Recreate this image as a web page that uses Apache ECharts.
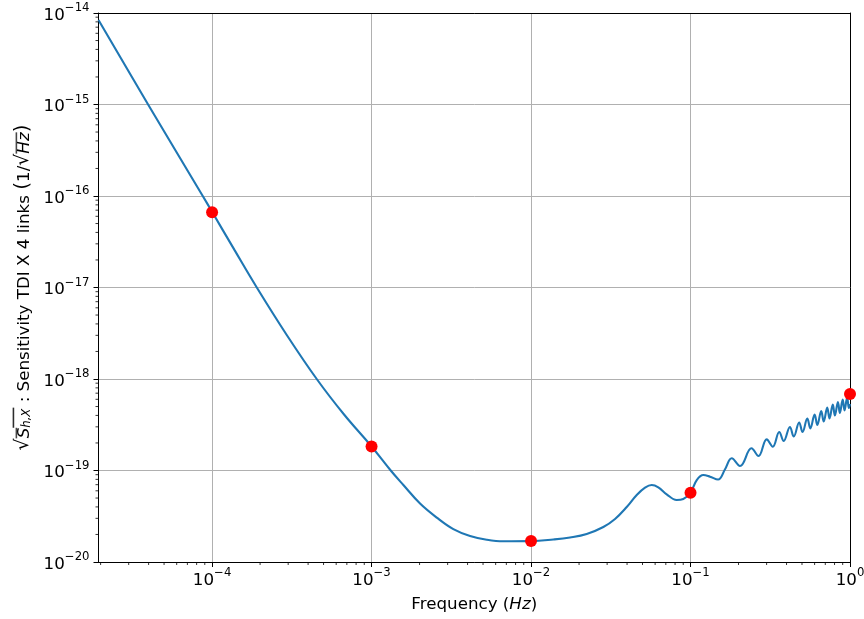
<!DOCTYPE html>
<html>
<head>
<meta charset="utf-8">
<script src="https://cdn.jsdelivr.net/npm/echarts@6/dist/echarts.min.js"></script>
<style>html,body{margin:0;padding:0;background:#fff}#c{width:864px;height:619px}</style>
</head>
<body>
<div id="c"></div>
<script>
// Frequency (Hz) and sensitivity (1/sqrt(Hz))
const freq = [1.94e-5, 3.97e-5, 8.74e-5, 1e-4, 1.381e-4, 1.907e-4, 2.939e-4, 4.53e-4, 6.722e-4, 1e-3,
  1.319e-3, 1.583e-3, 2.014e-3, 2.564e-3, 3.257e-3, 4.146e-3, 5.277e-3, 6.70e-3, 1e-2, 1.380e-2,
  1.756e-2, 2.234e-2, 2.840e-2, 3.363e-2, 3.981e-2, 4.600e-2, 5.185e-2, 5.71e-2, 6.28e-2, 7.09e-2,
  8.19e-2, 9.01e-2, 0.1, 0.1094, 0.1203, 0.1325, 0.1488, 0.1646, 0.1813, 0.2043,
  0.2412, 0.2668, 0.3004, 0.3277, 0.36, 0.384, 0.42, 0.444, 0.48, 0.504,
  0.54, 0.564, 0.60, 0.624, 0.66, 0.684, 0.72, 0.744, 0.78, 0.804,
  0.84, 0.864, 0.90, 0.924, 0.96, 0.984, 1.0];
const sens = [8.38e-15, 1e-15, 1e-16, 6.72e-17, 2.576e-17, 1e-17, 3.027e-18, 1e-18, 4.09e-19, 1.83e-19,
  1e-19, 6.94e-20, 4.36e-20, 3.06e-20, 2.29e-20, 1.924e-20, 1.752e-20, 1.683e-20, 1.69e-20, 1.761e-20,
  1.852e-20, 2.023e-20, 2.413e-20, 2.951e-20, 3.99e-20, 5.40e-20, 6.49e-20, 6.94e-20, 6.55e-20, 5.49e-20,
  4.76e-20, 4.88e-20, 5.72e-20, 7.87e-20, 8.93e-20, 8.56e-20, 7.97e-20, 1.031e-19, 1.359e-19, 1.12e-19,
  1.748e-19, 1.44e-19, 2.19e-19, 1.82e-19, 2.634e-19, 2.10e-19, 2.99e-19, 2.35e-19, 3.35e-19, 2.634e-19,
  3.70e-19, 2.88e-19, 4.09e-19, 3.14e-19, 4.47e-19, 3.43e-19, 4.88e-19, 3.70e-19, 5.26e-19, 3.99e-19,
  5.61e-19, 4.25e-19, 5.97e-19, 4.53e-19, 6.28e-19, 4.82e-19, 5.33e-19];
// Red markers
const dotFreq = [1e-4, 1e-3, 1e-2, 0.1, 1];
const dotSens = [6.65e-17, 1.83e-19, 1.696e-20, 5.72e-20, 6.86e-19];
// Axis ranges
const xMin = 1.94e-5, xMax = 1;
const yMin = 1e-20, yMax = 1e-14;
// Minor tick values
const xMinorTicks = [2e-5,3e-5,4e-5,5e-5,6e-5,7e-5,8e-5,9e-5,
  2e-4,3e-4,4e-4,5e-4,6e-4,7e-4,8e-4,9e-4,
  2e-3,3e-3,4e-3,5e-3,6e-3,7e-3,8e-3,9e-3,
  2e-2,3e-2,4e-2,5e-2,6e-2,7e-2,8e-2,9e-2,
  0.2,0.3,0.4,0.5,0.6,0.7,0.8,0.9];
const yMinorTicks = [];
[-20,-19,-18,-17,-16,-15].forEach(function(e){
  [2,3,4,5,6,7,8,9].forEach(function(m){ yMinorTicks.push(Number(m + 'e' + e)); });
});

const FONT = 'DejaVu Sans';
const FS = 16.7, SFS = 11.7;

// small image used as an overline (radical bar) behind rich-text fragments
const bar = document.createElement('canvas');
bar.width = 4; bar.height = 18;
(function(){ const g = bar.getContext('2d'); g.fillStyle = '#000'; g.fillRect(0, 0, 4, 1.2); })();

function powLabel(v){
  const e = Math.round(Math.log10(v));
  const s = (e < 0 ? '\u2212' + (-e) : '' + e);
  return '{b|10}{e|' + s + '}';
}
const labelRich = {
  b: {fontFamily: FONT, fontSize: FS, color: '#000', verticalAlign: 'bottom', lineHeight: 22},
  e: {fontFamily: FONT, fontSize: SFS, color: '#000', verticalAlign: 'top', lineHeight: 14}
};

const chart = echarts.init(document.getElementById('c'), null, {renderer: 'canvas'});
const axisCommonX = {type: 'log', logBase: 10, min: xMin, max: xMax};
const axisCommonY = {type: 'log', logBase: 10, min: yMin, max: yMax};
chart.setOption({
  animation: false,
  backgroundColor: '#fff',
  grid: {left: 98.5, right: 14, top: 13, bottom: 57, containLabel: false, outerBoundsMode: 'none'},
  xAxis: [Object.assign({}, axisCommonX, {
    position: 'bottom',
    name: '{t|Frequency (}{i|Hz}{t|)}', nameLocation: 'middle', nameGap: 34,
    nameTextStyle: {rich: {
      t: {fontFamily: FONT, fontSize: FS, color: '#000'},
      i: {fontFamily: FONT, fontSize: FS, color: '#000', fontStyle: 'italic'}
    }},
    axisLine: {show: true, lineStyle: {color: '#000', width: 1}},
    axisTick: {show: true, inside: false, length: 5, lineStyle: {color: '#000', width: 1}},
    axisLabel: {showMinLabel: false, margin: 5, formatter: powLabel, rich: labelRich},
    splitLine: {show: true, lineStyle: {color: '#b0b0b0', width: 1}}
  }), Object.assign({}, axisCommonX, {
    position: 'top',
    axisLine: {show: true, onZero: false, lineStyle: {color: '#000', width: 1}},
    axisTick: {show: false}, axisLabel: {show: false}, splitLine: {show: false}
  })],
  yAxis: [Object.assign({}, axisCommonY, {
    position: 'left',
    name: '{r|\u221a}{S|S}{sub|h,X}{t| : Sensitivity TDI X 4 links }{p|(}{t|1/}{r|\u221a}{H|Hz}{p|)}',
    nameLocation: 'middle', nameGap: 62, nameRotate: 90,
    nameTextStyle: {rich: {
      r: {fontFamily: FONT, fontSize: 19, color: '#000', verticalAlign: 'bottom', lineHeight: 24},
      S: {fontFamily: FONT, fontSize: FS, color: '#000', fontStyle: 'italic', verticalAlign: 'bottom',
          lineHeight: 18, backgroundColor: {image: bar}},
      H: {fontFamily: FONT, fontSize: FS, color: '#000', fontStyle: 'italic', verticalAlign: 'bottom',
          lineHeight: 18, backgroundColor: {image: bar}},
      sub: {fontFamily: FONT, fontSize: SFS, color: '#000', fontStyle: 'italic', verticalAlign: 'bottom',
          lineHeight: 10, padding: [8, 1, 0, 0], backgroundColor: {image: bar}},
      t: {fontFamily: FONT, fontSize: FS, color: '#000', verticalAlign: 'bottom', lineHeight: 24},
      p: {fontFamily: FONT, fontSize: 20, color: '#000', verticalAlign: 'bottom', lineHeight: 24}
    }},
    axisLine: {show: true, onZero: false, lineStyle: {color: '#000', width: 1}},
    axisTick: {show: true, inside: false, length: 5, lineStyle: {color: '#000', width: 1}},
    axisLabel: {margin: 9, formatter: powLabel, rich: labelRich},
    splitLine: {show: true, lineStyle: {color: '#b0b0b0', width: 1}}
  }), Object.assign({}, axisCommonY, {
    position: 'right',
    axisLine: {show: true, onZero: false, lineStyle: {color: '#000', width: 1}},
    axisTick: {show: false}, axisLabel: {show: false}, splitLine: {show: false}
  })],
  series: [
    {
      type: 'line',
      data: freq.map(function(f, i){ return [f, sens[i]]; }),
      showSymbol: false, symbol: 'none',
      smooth: 0.4,
      lineStyle: {color: '#1f77b4', width: 2.1},
      z: 3
    },
    {
      type: 'scatter',
      data: dotFreq.map(function(f, i){ return [f, dotSens[i]]; }),
      symbol: 'circle', symbolSize: 12,
      itemStyle: {color: '#ff0000', opacity: 1},
      z: 4
    },
    {
      type: 'custom',
      data: xMinorTicks.map(function(v){ return [v, yMin]; }),
      renderItem: function(params, api){
        const p = api.coord([api.value(0), yMin]);
        return {type: 'line', shape: {x1: p[0], y1: p[1], x2: p[0], y2: p[1] + 3},
                style: {stroke: '#000', lineWidth: 0.8}};
      },
      silent: true, z: 5
    },
    {
      type: 'custom',
      data: yMinorTicks.map(function(v){ return [xMin, v]; }),
      renderItem: function(params, api){
        const p = api.coord([xMin, api.value(1)]);
        return {type: 'line', shape: {x1: p[0] - 3, y1: p[1], x2: p[0], y2: p[1]},
                style: {stroke: '#000', lineWidth: 0.8}};
      },
      silent: true, z: 5
    }
  ]
});
</script>
</body>
</html>
